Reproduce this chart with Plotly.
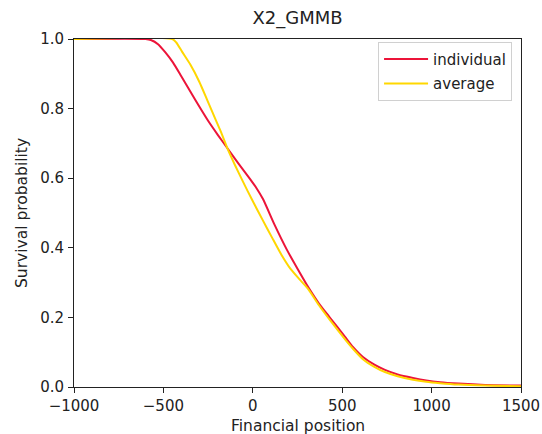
import plotly.graph_objects as go

# Financial position (x) and survival probability (y)
individual_x = [-1000, -600, -570, -530, -490, -446, -400, -323, -250, -195, -139, -80, -16, 20, 57,
                120, 191, 250, 309, 370, 432, 516, 560, 616, 680, 739, 810, 896, 970, 1047, 1150, 1300, 1500]
individual_y = [1.0, 1.0, 0.997, 0.985, 0.962, 0.932, 0.893, 0.826, 0.765, 0.724, 0.684, 0.642, 0.598, 0.572, 0.54,
                0.468, 0.394, 0.34, 0.288, 0.24, 0.199, 0.144, 0.115, 0.086, 0.064, 0.049, 0.036, 0.026, 0.019, 0.014, 0.01, 0.006, 0.004]

average_x = [-1000, -450, -428, -395, -351, -300, -256, -211, -180, -139, -100, -55, -4, 57, 107,
             160, 210, 260, 309, 370, 432, 516, 560, 616, 680, 739, 810, 896, 970, 1047, 1150, 1300, 1500]
average_y = [1.0, 1.0, 0.99, 0.963, 0.928, 0.878, 0.826, 0.772, 0.735, 0.682, 0.638, 0.59, 0.538, 0.478, 0.43,
             0.38, 0.34, 0.31, 0.282, 0.235, 0.192, 0.137, 0.11, 0.08, 0.058, 0.043, 0.031, 0.021, 0.015, 0.011, 0.007, 0.004, 0.002]

x_ticks = [-1000, -500, 0, 500, 1000, 1500]
y_ticks = [0.0, 0.2, 0.4, 0.6, 0.8, 1.0]

FONT = "DejaVu Sans"
INK = "#222"

fig = go.Figure()
fig.add_trace(go.Scatter(x=individual_x, y=individual_y, mode="lines", name="individual",
                         legendgroup="a", line=dict(color="#ec1439", width=2, shape="spline", smoothing=0.6)))
fig.add_trace(go.Scatter(x=average_x, y=average_y, mode="lines", name="average",
                         legendgroup="b", line=dict(color="#ffd700", width=2, shape="spline", smoothing=0.6)))

axis_common = dict(showline=True, linecolor=INK, linewidth=1, mirror=True, showgrid=False,
                   zeroline=False, ticks="outside", ticklen=5, tickcolor=INK, tickwidth=1,
                   automargin=False, tickfont=dict(family=FONT, size=15, color=INK))

fig.update_layout(
    width=542, height=434,
    margin=dict(l=74, r=21, t=39, b=47),
    paper_bgcolor="white", plot_bgcolor="white",
    font=dict(family=FONT, color=INK),
    title=dict(text="X2_GMMB", x=0.5, xref="paper", xanchor="center",
               y=1 - 18 / 434, yanchor="middle", font=dict(family=FONT, size=18, color=INK)),
    xaxis=dict(range=[-1000, 1500], tickvals=x_ticks, **axis_common),
    yaxis=dict(range=[0, 1], tickvals=y_ticks, tickformat=".1f", ticklabelstandoff=1, **axis_common),
    legend=dict(x=0.98, y=0.992, xanchor="right", yanchor="top", bgcolor="rgba(255,255,255,0.8)",
                bordercolor="#d0d0d0", borderwidth=1, font=dict(family=FONT, size=15, color=INK),
                traceorder="grouped", tracegroupgap=2, itemwidth=44),
    annotations=[
        dict(text="Financial position", xref="paper", yref="paper", x=0.5, y=-(426 - 387) / 348,
             xanchor="center", yanchor="middle", showarrow=False, font=dict(family=FONT, size=15.5, color=INK)),
        dict(text="Survival probability", xref="paper", yref="paper", x=-(74 - 22) / 447, y=0.5,
             xanchor="center", yanchor="middle", textangle=-90, showarrow=False,
             font=dict(family=FONT, size=15.5, color=INK)),
    ],
)

fig.write_html("out.html")
